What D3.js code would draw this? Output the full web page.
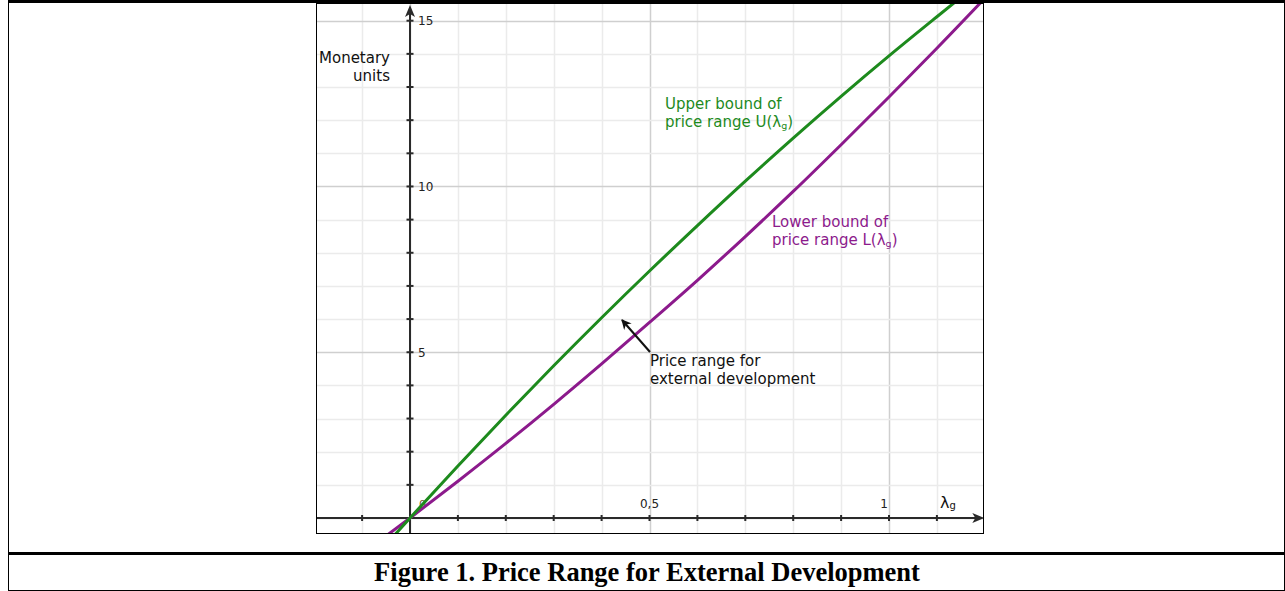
<!DOCTYPE html>
<html>
<head>
<meta charset="utf-8">
<script src="https://cdn.jsdelivr.net/npm/d3@7"></script>
<style>
  html, body { margin: 0; padding: 0; background: #fff; }
  svg { display: block; }
</style>
</head>
<body>
<svg id="fig" width="1285" height="591"></svg>
<script>
// values
const lambdaUpper = [-0.04, 0, 0.1, 0.2, 0.3, 0.4, 0.5, 0.6, 0.7, 0.8, 0.9, 1.0, 1.1, 1.16];
const upperBound  = [-0.64, 0, 1.57, 3.1, 4.59, 6.04, 7.45, 8.82, 10.16, 11.46, 12.72, 13.94, 15.12, 15.82];
const lambdaLower = [-0.06, 0, 0.1, 0.2, 0.3, 0.4, 0.5, 0.6, 0.7, 0.8, 0.9, 1.0, 1.1, 1.22];
const lowerBound  = [-0.65, 0, 1.11, 2.25, 3.43, 4.65, 5.9, 7.17, 8.49, 9.85, 11.26, 12.7, 14.17, 15.98];

const yTickLabels = [5, 10, 15];
const xTickValues = [0.5, 1];
const xTickLabels = ["0,5", "1"];

const svg = d3.select("#fig");

// page table lines
const page = svg.append("g").attr("stroke", "#000");
page.append("line").attr("x1", 8).attr("x2", 1285).attr("y1", 1.5).attr("y2", 1.5).attr("stroke-width", 3);
page.append("line").attr("x1", 8.5).attr("x2", 8.5).attr("y1", 0).attr("y2", 591);
page.append("line").attr("x1", 1284.5).attr("x2", 1284.5).attr("y1", 0).attr("y2", 591);
page.append("line").attr("x1", 8).attr("x2", 1285).attr("y1", 553.5).attr("y2", 553.5).attr("stroke-width", 3);
page.append("line").attr("x1", 8).attr("x2", 1285).attr("y1", 590.5).attr("y2", 590.5);

svg.append("text")
  .attr("x", 647).attr("y", 581)
  .attr("text-anchor", "middle")
  .style("font-family", "'Liberation Serif', 'Times New Roman', serif")
  .style("font-weight", "bold")
  .style("font-size", "26.5px")
  .text("Figure 1. Price Range for External Development");

// figure box
const box = {left: 316, top: 3, right: 984, bottom: 534};
const x = d3.scaleLinear().domain([0, 1]).range([410, 889]);
const y = d3.scaleLinear().domain([0, 15]).range([518, 20.7]);

svg.append("clipPath").attr("id", "clip")
  .append("rect")
  .attr("x", box.left).attr("y", box.top)
  .attr("width", box.right - box.left).attr("height", box.bottom - box.top);

const g = svg.append("g");

// grid
const xMinor = d3.range(-1, 12).map(d => d / 10);
const yMinor = d3.range(0, 16);
const grid = g.append("g").attr("clip-path", "url(#clip)");
grid.selectAll(".vx").data(xMinor).join("line")
  .attr("x1", d => Math.round(x(d)) + 0.5).attr("x2", d => Math.round(x(d)) + 0.5)
  .attr("y1", box.top).attr("y2", box.bottom)
  .attr("stroke", d => (Math.round(d * 10) % 5 === 0) ? "#cfcfcf" : "#ebebeb")
  .attr("stroke-width", 1.5);
grid.selectAll(".hy").data(yMinor).join("line")
  .attr("y1", d => Math.round(y(d)) + 0.5).attr("y2", d => Math.round(y(d)) + 0.5)
  .attr("x1", box.left).attr("x2", box.right)
  .attr("stroke", d => (d % 5 === 0) ? "#cfcfcf" : "#ebebeb")
  .attr("stroke-width", 1.5);

// axes
const axisColor = "#2a2a2a";
g.append("line")
  .attr("x1", box.left).attr("x2", x(1.19))
  .attr("y1", y(0)).attr("y2", y(0))
  .attr("stroke", axisColor).attr("stroke-width", 2);
g.append("path")
  .attr("d", `M${x(1.199)},${y(0)} l-12,-5 l3,5 l-3,5 z`)
  .attr("fill", axisColor);
g.append("line")
  .attr("x1", x(0)).attr("x2", x(0))
  .attr("y1", box.bottom).attr("y2", 14)
  .attr("stroke", axisColor).attr("stroke-width", 2);
g.append("path")
  .attr("d", `M${x(0)},${5} l-5,12 l5,-3 l5,3 z`)
  .attr("fill", axisColor);

// ticks
g.selectAll(".xt").data(d3.range(-1, 12).filter(d => d !== 0).map(d => d / 10)).join("line")
  .attr("x1", d => x(d)).attr("x2", d => x(d))
  .attr("y1", y(0) - 3).attr("y2", y(0) + 3)
  .attr("stroke", axisColor).attr("stroke-width", 2);
g.selectAll(".yt").data(d3.range(1, 16)).join("line")
  .attr("y1", d => y(d)).attr("y2", d => y(d))
  .attr("x1", x(0) - 3.5).attr("x2", x(0) + 3.5)
  .attr("stroke", axisColor).attr("stroke-width", 2);

const labelFont = "'DejaVu Sans', 'Noto Sans', sans-serif";
g.selectAll(".yl").data(yTickLabels).join("text")
  .attr("x", x(0) + 8).attr("y", d => y(d) + 4.5)
  .style("font-family", labelFont).style("font-size", "12px")
  .attr("fill", "#222")
  .text(d => d);
g.selectAll(".xl").data(xTickValues).join("text")
  .attr("x", d => x(d)).attr("y", 508)
  .attr("text-anchor", d => d === 1 ? "end" : "middle")
  .attr("dx", d => d === 1 ? -1 : 0)
  .style("font-family", labelFont).style("font-size", "12px")
  .attr("fill", "#222")
  .text((d, i) => xTickLabels[i]);
g.append("text")
  .attr("x", x(0) + 9).attr("y", 508)
  .style("font-family", labelFont).style("font-size", "11px")
  .attr("fill", "#7a5a2a")
  .text("0");

// axis titles
const yTitle = g.append("text")
  .attr("text-anchor", "end")
  .style("font-family", labelFont).style("font-size", "15px")
  .attr("fill", "#111");
yTitle.append("tspan").attr("x", 390).attr("y", 63).text("Monetary");
yTitle.append("tspan").attr("x", 390).attr("y", 81).text("units");

const xTitle = g.append("text")
  .attr("x", 940).attr("y", 508)
  .style("font-family", labelFont).style("font-size", "16px")
  .attr("fill", "#111");
xTitle.append("tspan").text("λ");
xTitle.append("tspan").attr("dy", 1).style("font-size", "10px").text("g");

// curves
const line = d3.line().x(d => x(d[0])).y(d => y(d[1])).curve(d3.curveMonotoneX);
const curves = g.append("g").attr("clip-path", "url(#clip)");
const green = "#1d8a1d";
const purple = "#8c1a8c";
curves.append("path")
  .datum(d3.zip(lambdaLower, lowerBound))
  .attr("d", line).attr("fill", "none")
  .attr("stroke", purple).attr("stroke-width", 3);
curves.append("path")
  .datum(d3.zip(lambdaUpper, upperBound))
  .attr("d", line).attr("fill", "none")
  .attr("stroke", green).attr("stroke-width", 3);

// annotations
function twoLines(x0, y0, l1, l2, color, sub) {
  const t = g.append("text")
    .style("font-family", labelFont).style("font-size", "15px")
    .attr("fill", color);
  t.append("tspan").attr("x", x0).attr("y", y0).text(l1);
  t.append("tspan").attr("x", x0).attr("y", y0 + 18).text(l2);
  if (sub) {
    t.append("tspan").text("λ");
    t.append("tspan").attr("dy", 2).style("font-size", "9.5px").text("g");
    t.append("tspan").attr("dy", -2).text(")");
  }
  return t;
}
twoLines(665, 109, "Upper bound of", "price range U(", green, true);
twoLines(772, 227, "Lower bound of", "price range L(", purple, true);
twoLines(650, 366, "Price range for", "external development", "#111", false);

svg.append("defs").append("marker")
  .attr("id", "ah").attr("viewBox", "0 0 10 10")
  .attr("refX", 9).attr("refY", 5)
  .attr("markerWidth", 10).attr("markerHeight", 10)
  .attr("markerUnits", "userSpaceOnUse")
  .attr("orient", "auto")
  .append("path").attr("d", "M0,0 L10,5 L0,10 L3,5 z").attr("fill", "#111");
g.append("line")
  .attr("x1", 650).attr("y1", 352).attr("x2", 622).attr("y2", 320)
  .attr("stroke", "#111").attr("stroke-width", 2)
  .attr("marker-end", "url(#ah)");

// image frame
svg.append("rect")
  .attr("x", box.left + 0.5).attr("y", box.top + 0.5)
  .attr("width", box.right - box.left - 1).attr("height", box.bottom - box.top - 1)
  .attr("fill", "none").attr("stroke", "#000").attr("stroke-width", 1);
</script>
</body>
</html>
